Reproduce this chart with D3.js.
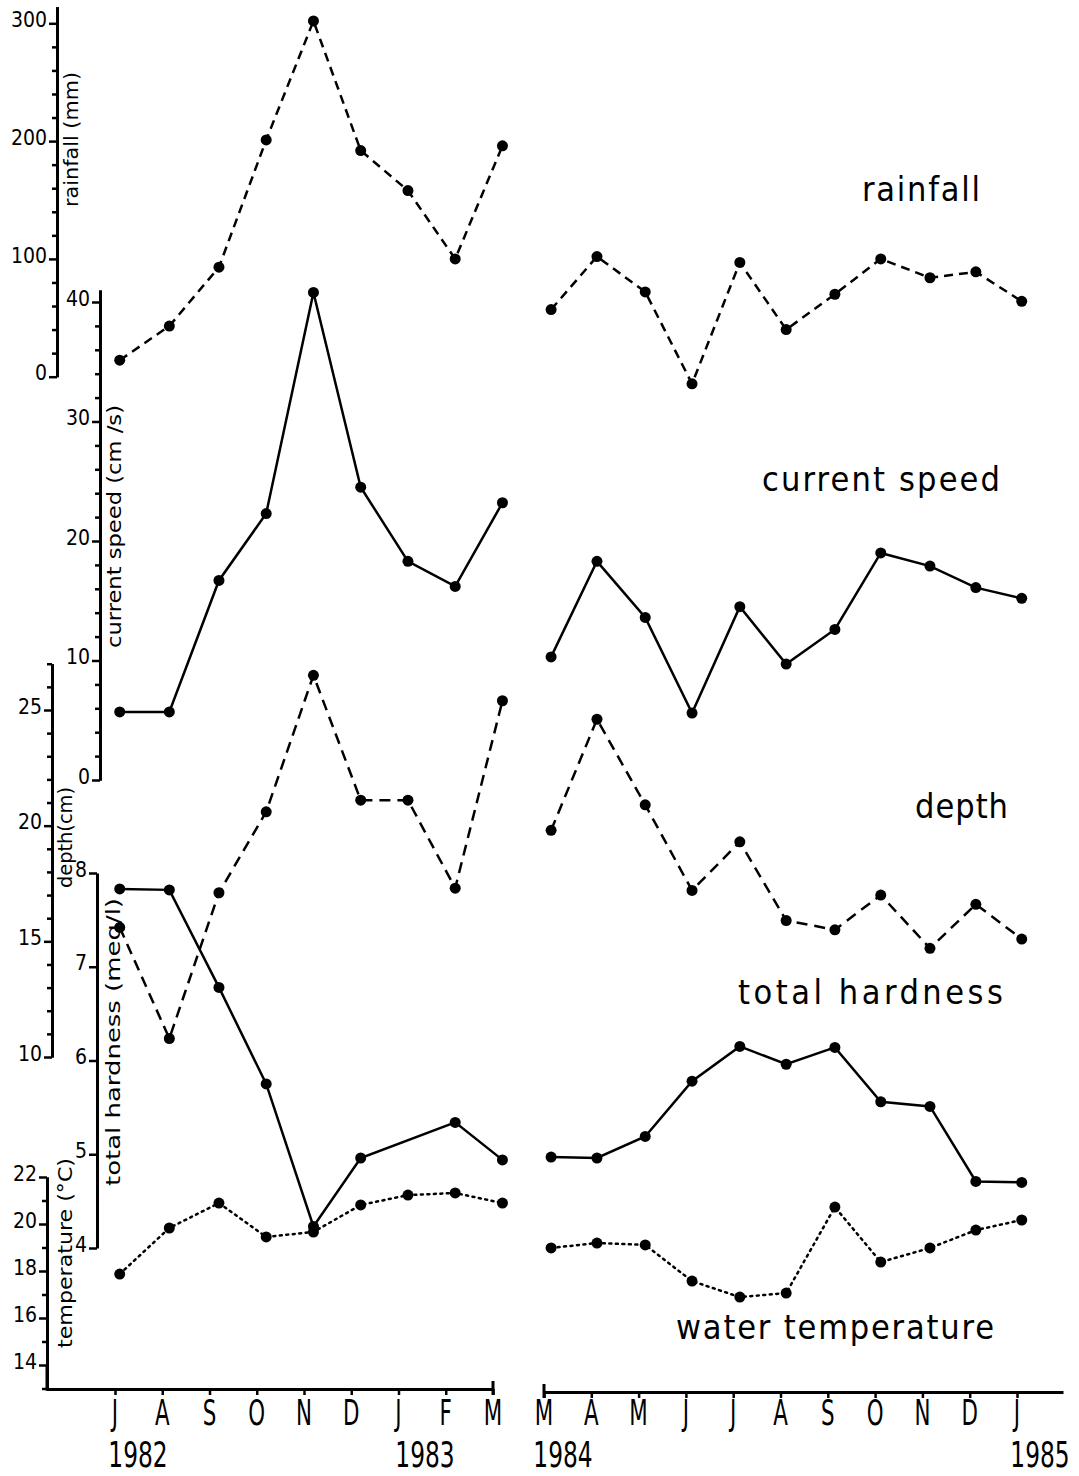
<!DOCTYPE html>
<html>
<head>
<meta charset="utf-8">
<script src="https://cdn.jsdelivr.net/npm/d3@7"></script>
<style>
  html, body { margin: 0; padding: 0; background: #fff; }
  svg { display: block; }
  text { font-family: "DejaVu Sans Condensed", "DejaVu Sans", sans-serif; fill: #000; }
</style>
</head>
<body>
<svg id="chart" width="1079" height="1476"></svg>
<script>
// ---------------- DATA ----------------
const monthsLeft  = ["J","A","S","O","N","D","J","F","M"];            // Jul 1982 .. Mar 1983
const monthsRight = ["M","A","M","J","J","A","S","O","N","D","J"];    // Mar 1984 .. Jan 1985
const yearLabels  = ["1982","1983","1984","1985"];
// sampling position of each observation, in months from the first tick
const samplesLeft  = [0.1, 1.15, 2.2, 3.2, 4.2, 5.2, 6.2, 7.2, 8.2];
const samplesRight = [0.15, 1.12, 2.14, 3.13, 4.14, 5.12, 6.15, 7.12, 8.16, 9.13, 10.1];

const rainfallLeft  = [14, 43, 93, 201, 302, 192, 158, 100, 196];
const rainfallRight = [57, 102, 72, -6, 97, 40, 70, 100, 84, 89, 64];

const speedLeft  = [5.7, 5.7, 16.7, 22.3, 40.8, 24.5, 18.3, 16.2, 23.2];
const speedRight = [10.3, 18.3, 13.6, 5.6, 14.5, 9.7, 12.6, 19.0, 17.9, 16.1, 15.2];

const depthLeft  = [15.6, 10.8, 17.1, 20.6, 26.5, 21.1, 21.1, 17.3, 25.4];
const depthRight = [19.8, 24.6, 20.9, 17.2, 19.3, 15.9, 15.5, 17.0, 14.7, 16.6, 15.1];

const hardnessLeft  = [7.83, 7.82, 6.78, 5.75, 4.23, 4.96, null, 5.34, 4.94];
const hardnessRight = [4.97, 4.96, 5.19, 5.78, 6.15, 5.96, 6.14, 5.56, 5.51, 4.71, 4.70];

const tempLeft  = [17.87, 19.83, 20.89, 19.45, 19.66, 20.81, 21.23, 21.32, 20.89];
const tempRight = [18.98, 19.19, 19.11, 17.57, 16.89, 17.06, 20.72, 18.38, 18.98, 19.74, 20.17];

const rainTicks  = [0, 100, 200, 300];
const speedTicks = [0, 10, 20, 30, 40];
const depthTicks = [10, 15, 20, 25];
const hardTicks  = [4, 5, 6, 7, 8];
const tempTicks  = [14, 16, 18, 20, 22];

const seriesNames = ["rainfall", "current speed", "depth", "total hardness", "water temperature"];
const axisTitles  = ["rainfall (mm)", "current speed (cm /s)", "depth(cm)", "total hardness (meq/l)", "temperature (°C)"];

// ---------------- LAYOUT ----------------
const svg = d3.select("#chart");
const ink = "#000";

const xL = d3.scaleLinear().domain([0, 8]).range([115, 493]);
const xR = d3.scaleLinear().domain([0, 10]).range([544, 1017]);
const baseL = 1389, baseR = 1392;

const yRain  = d3.scaleLinear().domain([0, 300]).range([376.7, 23.3]);
const ySpeed = d3.scaleLinear().domain([0, 40]).range([780, 302]);
const yDepth = d3.scaleLinear().domain([10, 25]).range([1057, 710]);
const yHard  = d3.scaleLinear().domain([4, 8]).range([1248, 873]);
const yTemp  = d3.scaleLinear().domain([14, 22]).range([1365, 1177]);

// ---------------- Y AXES ----------------
function yAxis(scale, extent, x, majors, minorStep) {
  const s = scale.copy().domain(extent).range(extent.map(scale));
  const g = svg.append("g").attr("transform", `translate(${x},0)`);
  if (minorStep) {
    const minors = d3.range(extent[0], extent[1] + 1e-9, minorStep)
      .filter(v => !majors.some(m => Math.abs(m - v) < 1e-9));
    g.append("g").call(d3.axisLeft(s).tickValues(minors).tickSize(5).tickFormat("").tickSizeOuter(0));
  }
  g.append("g").call(d3.axisLeft(s).tickValues(majors).tickSize(8).tickPadding(2)
    .tickFormat(d3.format("d")).tickSizeOuter(0));
  g.selectAll("path.domain").attr("stroke", ink).attr("stroke-width", 3);
  g.selectAll(".tick line").attr("stroke", ink).attr("stroke-width", 2.5);
  g.selectAll(".tick text").attr("font-size", 21).attr("font-family", "DejaVu Sans, sans-serif")
    .attr("dy", "0.15em").attr("fill", ink);
  return g;
}
yAxis(yRain,  [0, 314], 57, rainTicks, 20);
yAxis(ySpeed, [0, 41], 100, speedTicks, 2);
yAxis(yDepth, [10, 27], 52, depthTicks, 1);
yAxis(yHard,  [4, 8], 97, hardTicks, 0);
yAxis(yTemp,  [13, 22], 47, tempTicks, 1);

// rotated axis titles: [title, x-baseline, y-start, length]
const titlePos = [
  [axisTitles[0], 78, 207, 135],
  [axisTitles[1], 121, 648, 243],
  [axisTitles[2], 72, 888, 101],
  [axisTitles[3], 120, 1186, 288],
  [axisTitles[4], 72, 1348, 190]
];
titlePos.forEach(([t, x, y, len]) => {
  svg.append("text")
    .attr("transform", `translate(${x},${y}) rotate(-90)`)
    .attr("font-size", 20)
    .attr("textLength", len).attr("lengthAdjust", "spacingAndGlyphs")
    .text(t);
});

// ---------------- X AXES ----------------
function xAxis(scale, extentDom, y, labels) {
  const s = scale.copy().domain(extentDom).range(extentDom.map(scale));
  const g = svg.append("g").attr("transform", `translate(0,${y})`);
  g.call(d3.axisBottom(s).tickValues(d3.range(labels.length)).tickSize(6).tickFormat("").tickSizeOuter(0));
  g.selectAll("path.domain").attr("stroke", ink).attr("stroke-width", 3);
  g.selectAll(".tick line").attr("stroke", ink).attr("stroke-width", 2.5);
  labels.forEach((m, i) => {
    svg.append("text")
      .attr("transform", `translate(${scale(i)},1425) scale(0.66,1)`)
      .attr("text-anchor", "middle").attr("font-size", 36)
      .attr("font-family", "DejaVu Sans, sans-serif")
      .text(m);
  });
  return s;
}
xAxis(xL, [(46 - 115) / 47.25, 8], baseL, monthsLeft);
xAxis(xR, [0, (1063 - 544) / 47.3], baseR, monthsRight);
// end bars of the two time axes
[[xL(8), baseL], [xR(0), baseR]].forEach(([x, y]) => {
  svg.append("line").attr("x1", x).attr("x2", x).attr("y1", y - 8).attr("y2", y + 6)
    .attr("stroke", ink).attr("stroke-width", 3);
});
// left corner (temperature axis joins baseline)
svg.append("line").attr("x1", 47).attr("x2", 47).attr("y1", 1365).attr("y2", baseL + 1.5)
  .attr("stroke", ink).attr("stroke-width", 3);

// year labels: [label, centre x]
[[yearLabels[0], 138], [yearLabels[1], 425], [yearLabels[2], 563], [yearLabels[3], 1040]].forEach(([t, x]) => {
  svg.append("text")
    .attr("transform", `translate(${x},1467) scale(0.74,1)`)
    .attr("text-anchor", "middle").attr("font-size", 35)
    .attr("font-family", "DejaVu Sans, sans-serif")
    .text(t);
});

// ---------------- SERIES ----------------
function series(xs, dates, vals, y, dash, width) {
  const pts = vals.map((v, i) => ({ x: xs(dates[i]), v })).filter(d => d.v !== null);
  const line = d3.line().x(d => d.x).y(d => y(d.v));
  svg.append("path").datum(pts).attr("d", line)
    .attr("fill", "none").attr("stroke", ink).attr("stroke-width", width)
    .attr("stroke-dasharray", dash).attr("stroke-linecap", dash === "2,4.5" ? "round" : "butt");
  svg.append("g").selectAll("circle").data(pts).join("circle")
    .attr("cx", d => d.x).attr("cy", d => y(d.v)).attr("r", 5.5).attr("fill", ink);
}
const dashRain = "9,6", dashDepth = "11,7", dotTemp = "2,4.5";
series(xL, samplesLeft, rainfallLeft, yRain, dashRain, 2.5);
series(xR, samplesRight, rainfallRight, yRain, dashRain, 2.5);
series(xL, samplesLeft, speedLeft, ySpeed, null, 2.5);
series(xR, samplesRight, speedRight, ySpeed, null, 2.5);
series(xL, samplesLeft, depthLeft, yDepth, dashDepth, 2.5);
series(xR, samplesRight, depthRight, yDepth, dashDepth, 2.5);
series(xL, samplesLeft, hardnessLeft, yHard, null, 2.5);
series(xR, samplesRight, hardnessRight, yHard, null, 2.5);
series(xL, samplesLeft, tempLeft, yTemp, dotTemp, 2.5);
series(xR, samplesRight, tempRight, yTemp, dotTemp, 2.5);

// ---------------- SERIES NAMES ----------------
// [name, x-start, baseline, width]
const namePos = [
  [seriesNames[0], 862, 201, 118],
  [seriesNames[1], 762, 491, 238],
  [seriesNames[2], 915, 818, 93],
  [seriesNames[3], 738, 1004, 265],
  [seriesNames[4], 676, 1339, 318]
];
namePos.forEach(([t, x, y, len]) => {
  svg.append("text").attr("x", x).attr("y", y)
    .attr("font-size", 34).attr("font-weight", 300)
    .attr("textLength", len).attr("lengthAdjust", "spacing")
    .text(t);
});
</script>
</body>
</html>
